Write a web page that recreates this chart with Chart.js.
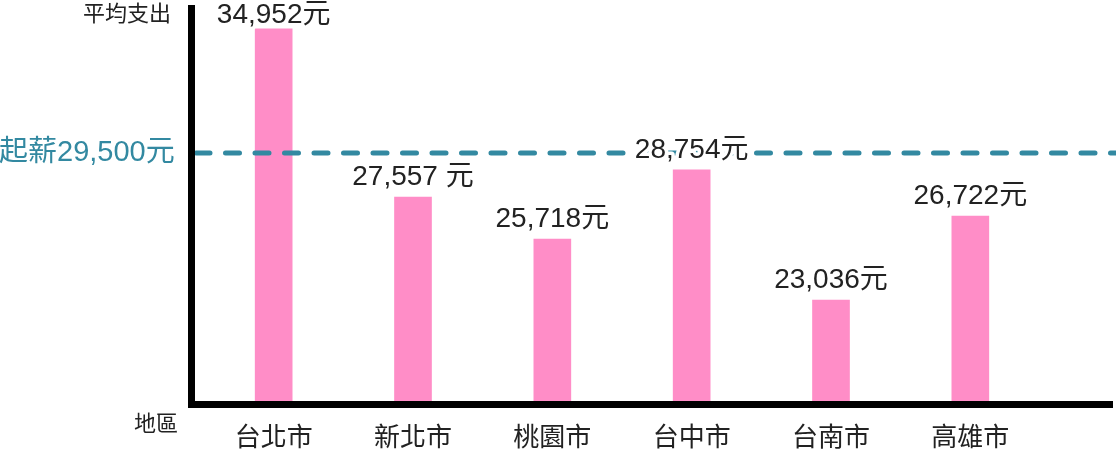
<!DOCTYPE html>
<html>
<head>
<meta charset="utf-8">
<script src="https://cdn.jsdelivr.net/npm/chart.js@4"></script>
<style>
  html, body { margin: 0; padding: 0; background: #fff; }
  #wrap { width: 1116px; height: 451px; }
</style>
</head>
<body>
<div id="wrap"><canvas id="spendChart" width="1116" height="451"></canvas></div>
<script>
const regions = ["台北市", "新北市", "桃園市", "台中市", "台南市", "高雄市"];
const spending = [34952, 27557, 25718, 28754, 23036, 26722];
const spendLabels = ["34,952元", "27,557 元", "25,718元", "28,754元", "23,036元", "26,722元"];
const salary = 29500;
const salaryLabel = "起薪29,500元";

const FONT = "'Noto Sans CJK TC', 'Noto Sans', sans-serif";
const NUM_FONT = "'Liberation Sans', 'Noto Sans CJK TC', sans-serif";
const TEXT = "#222";
const TEAL = "#3389a1";

// axis lines, salary line and all the extra labels
const decorations = {
  id: "decorations",
  afterDatasetsDraw(chart) {
    const ctx = chart.ctx;
    const area = chart.chartArea;
    const y = chart.scales.y;
    ctx.save();

    // salary dashed line
    const sy = y.getPixelForValue(salary);
    ctx.strokeStyle = TEAL;
    ctx.lineWidth = 5;
    ctx.lineCap = "round";
    ctx.setLineDash([14, 15.5]);
    ctx.beginPath();
    ctx.moveTo(196, sy);
    ctx.lineTo(1116, sy);
    ctx.stroke();
    ctx.setLineDash([]);

    ctx.fillStyle = TEAL;
    ctx.font = "29px " + NUM_FONT;
    ctx.textAlign = "left";
    ctx.textBaseline = "middle";
    ctx.fillText(salaryLabel, -1, sy);

    // axes
    ctx.fillStyle = "#000";
    ctx.fillRect(area.left - 16, 5, 7, area.bottom - 5 + 7);
    ctx.fillRect(area.left - 16, area.bottom, 1113 - (area.left - 16), 7);

    // axis titles
    ctx.fillStyle = TEXT;
    ctx.font = "22px " + FONT;
    ctx.textAlign = "right";
    ctx.fillText("平均支出", 171, 13);
    ctx.fillText("地區", 178, 423);

    // value labels, white halo so the dashed line does not cross them
    ctx.font = "28px " + NUM_FONT;
    ctx.textAlign = "center";
    ctx.strokeStyle = "#fff";
    ctx.lineWidth = 7;
    ctx.lineJoin = "round";
    chart.getDatasetMeta(0).data.forEach((bar, i) => {
      const ly = Math.max(bar.y - 20, 15);
      ctx.strokeText(spendLabels[i], bar.x, ly);
      ctx.fillText(spendLabels[i], bar.x, ly);
    });
    ctx.restore();
  }
};

new Chart(document.getElementById("spendChart"), {
  type: "bar",
  data: {
    labels: regions,
    datasets: [{
      data: spending,
      backgroundColor: "#ff8dc7",
      barThickness: 37
    }]
  },
  options: {
    responsive: false,
    animation: false,
    layout: {
      padding: { left: 204, right: 76, top: 5, bottom: 0 }
    },
    plugins: {
      legend: { display: false },
      tooltip: { enabled: false }
    },
    scales: {
      x: {
        grid: { display: false },
        border: { display: false },
        ticks: {
          color: TEXT,
          padding: 12,
          font: { family: FONT, size: 26 }
        },
        afterFit(scale) { scale.height = 50; }
      },
      y: {
        display: false,
        min: 18600,
        max: 36000
      }
    }
  },
  plugins: [decorations]
});
</script>
</body>
</html>
